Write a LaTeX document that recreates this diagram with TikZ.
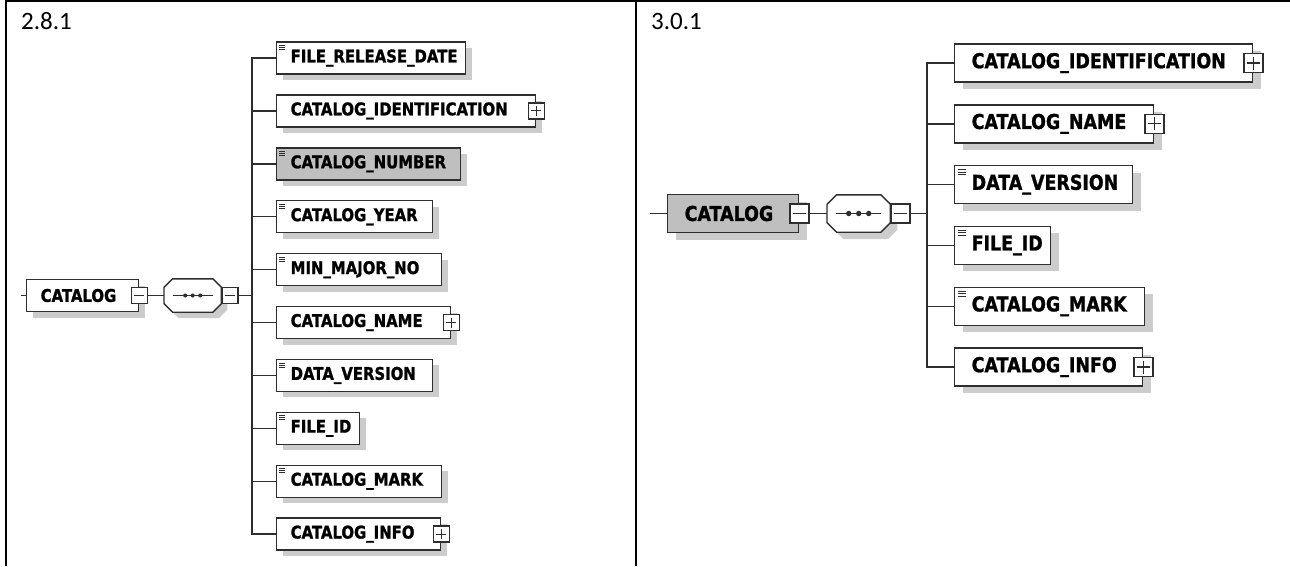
\documentclass[tikz,border=0pt]{standalone}
\usepackage{fontspec}
\usetikzlibrary{shadows}
\newfontfamily\elfont[FakeStretch=0.85, BoldFeatures={FakeBold=1.2}]{DejaVu Sans}
\newfontfamily\capfont{Carlito}
\colorlet{linec}{black!82}
\colorlet{shadowc}{black!20}
\colorlet{keyfill}{black!25}
\hyphenpenalty=10000

\tikzset{
  wire/.style={draw=linec, line width=1.4pt},
  tabline/.style={draw=black, line width=2.3pt},
  vlabel/.style={anchor=base west, inner sep=0pt, font=\capfont\fontsize{25}{30}\selectfont},
  elbase/.style={draw=linec, line width=1.4pt, fill=white, anchor=west, align=left, inner ysep=0pt},
  elL/.style={elbase, minimum height=32pt, inner xsep=14pt, text width=#1,
    font=\elfont\bfseries\fontsize{17.5}{19}\selectfont,
    general shadow={fill=shadowc, shadow xshift=6pt, shadow yshift=-6pt}},
  elR/.style={elbase, minimum height=38pt, inner xsep=17pt, text width=#1,
    font=\elfont\bfseries\fontsize{20.5}{23}\selectfont,
    general shadow={fill=shadowc, shadow xshift=8pt, shadow yshift=-7pt}},
  docL/.style={path picture={\foreach \dy in {3.5,5.5,7.5}
    \draw[linec, line width=.8pt] ([xshift=2.5pt, yshift=-\dy pt]path picture bounding box.north west) -- ++(6,0);}},
  docR/.style={path picture={\foreach \dy in {4,6.5,9}
    \draw[linec, line width=.9pt] ([xshift=3pt, yshift=-\dy pt]path picture bounding box.north west) -- ++(8,0);}},
  togL/.style={draw=linec, line width=1.4pt, fill=white, minimum size=16pt, inner sep=0pt},
  togR/.style={togL, minimum size=19pt},
  minusL/.style={togL, path picture={\draw[linec, line width=1.1pt]
    ([xshift=3pt]path picture bounding box.west) -- ([xshift=-3pt]path picture bounding box.east);}},
  plusL/.style={togL, path picture={\draw[linec, line width=1.1pt]
    ([xshift=3pt]path picture bounding box.west) -- ([xshift=-3pt]path picture bounding box.east)
    ([yshift=-3pt]path picture bounding box.north) -- ([yshift=3pt]path picture bounding box.south);}},
  minusR/.style={minusL, togR},
  plusR/.style={plusL, togR},
  seqline/.style={draw=linec, line width=1.4pt, fill=white},
  seqL/.style={rectangle, minimum width=57pt, minimum height=33pt, inner sep=0pt, anchor=west},
  seqR/.style={seqL, minimum width=63pt, minimum height=37pt}
}

% sequence compositor: node, chamfer, shadow, dot gap, half line
\newcommand{\seqbox}[5]{%
  \draw[seqline, general shadow={fill=shadowc, shadow xshift=#3, shadow yshift=-#3}]
    ([xshift=#2]#1.north west) -- ([xshift=-#2]#1.north east) -- ([yshift=-#2]#1.north east)
    -- ([yshift=#2]#1.south east) -- ([xshift=-#2]#1.south east) -- ([xshift=#2]#1.south west)
    -- ([yshift=#2]#1.south west) -- ([yshift=-#2]#1.north west) -- cycle;
  \draw[linec, line width=1.3pt] ([xshift=-#5]#1.center) -- ([xshift=#5]#1.center);
  \foreach \k in {-1,0,1} \fill[linec] ([xshift=\k*#4]#1.center) circle (0.27*#4);
}

\begin{document}
\begin{tikzpicture}[x=1pt, y=-1pt]
  \useasboundingbox (0,0) rectangle (1290,566);

  % table
  \draw[tabline] (1290,1.3) -- (6.2,1.3) -- (6.2,566);
  \draw[tabline] (636,1.3) -- (636,566);

  % 2.8.1
  \node[vlabel] (lver) at (21,29) {2.8.1};
  \coordinate (lstub) at (21,295.5);
  \node[elL=84pt] (lcat) at (26,295.5) {CATALOG};
  \node[minusL] (lcatm) at (lcat.east) {};
  \node[seqL] (lseq) at (164,295.5) {};
  \seqbox{lseq}{8.5pt}{6pt}{7.5pt}{20pt}
  \node[minusL, anchor=west] (lseqm) at (lseq.east) {};
  \coordinate (lj) at (252,295.5);

  \node[elL=161pt, docL] (frd) at (276,58) {FILE\_RELEASE\_DATE};
  \node[elL=231pt] (lcid) at (276,110.9) {CATALOG\_IDENTIFICATION};
  \node[plusL] (lcidp) at (lcid.east) {};
  \node[elL=156pt, docL, fill=keyfill] (cnum) at (276,163.8) {CATALOG\_NUMBER};
  \node[elL=128pt, docL] (cyear) at (276,216.7) {CATALOG\_YEAR};
  \node[elL=137pt, docL] (mmno) at (276,269.6) {MIN\_MAJOR\_NO};
  \node[elL=146pt] (lcnm) at (276,322.5) {CATALOG\_NAME};
  \node[plusL] (lcnmp) at (lcnm.east) {};
  \node[elL=128pt, docL] (ldv) at (276,375.4) {DATA\_VERSION};
  \node[elL=55pt, docL] (lfid) at (276,428.3) {FILE\_ID};
  \node[elL=137pt, docL] (lcmk) at (276,481.2) {CATALOG\_MARK};
  \node[elL=136pt] (lcinf) at (276,534.1) {CATALOG\_INFO};
  \node[plusL] (lcinfp) at (lcinf.east) {};

  \draw[wire] (lstub) -- (lcat);
  \draw[wire] (lcatm) -- (lseq);
  \draw[wire] (lseqm) -- (lj);
  \foreach \n in {frd,lcid,cnum,cyear,mmno,lcnm,ldv,lfid,lcmk,lcinf}
    \draw[wire] (lj) |- (\n);

  % 3.0.1
  \node[vlabel] (rver) at (651,29) {3.0.1};
  \coordinate (rstub) at (650,213.5);
  \node[elR=97pt, fill=keyfill] (rcat) at (667,213.5) {CATALOG};
  \node[minusR] (rcatm) at (rcat.east) {};
  \node[seqR] (rseq) at (827,213.5) {};
  \seqbox{rseq}{9.5pt}{7pt}{10pt}{22.5pt}
  \node[minusR, anchor=west] (rseqm) at (rseq.east) {};
  \coordinate (rj) at (927,213.5);

  \node[elR=264pt] (rcid) at (954,63) {CATALOG\_IDENTIFICATION};
  \node[plusR] (rcidp) at (rcid.east) {};
  \node[elR=165pt] (rcnm) at (954,123.8) {CATALOG\_NAME};
  \node[plusR] (rcnmp) at (rcnm.east) {};
  \node[elR=144pt, docR] (rdv) at (954,184.6) {DATA\_VERSION};
  \node[elR=62pt, docR] (rfid) at (954,245.4) {FILE\_ID};
  \node[elR=156pt, docR] (rcmk) at (954,306.2) {CATALOG\_MARK};
  \node[elR=154pt] (rcinf) at (954,367) {CATALOG\_INFO};
  \node[plusR] (rcinfp) at (rcinf.east) {};

  \draw[wire] (rstub) -- (rcat);
  \draw[wire] (rcatm) -- (rseq);
  \draw[wire] (rseqm) -- (rj);
  \foreach \n in {rcid,rcnm,rdv,rfid,rcmk,rcinf}
    \draw[wire] (rj) |- (\n);
\end{tikzpicture}
\end{document}
